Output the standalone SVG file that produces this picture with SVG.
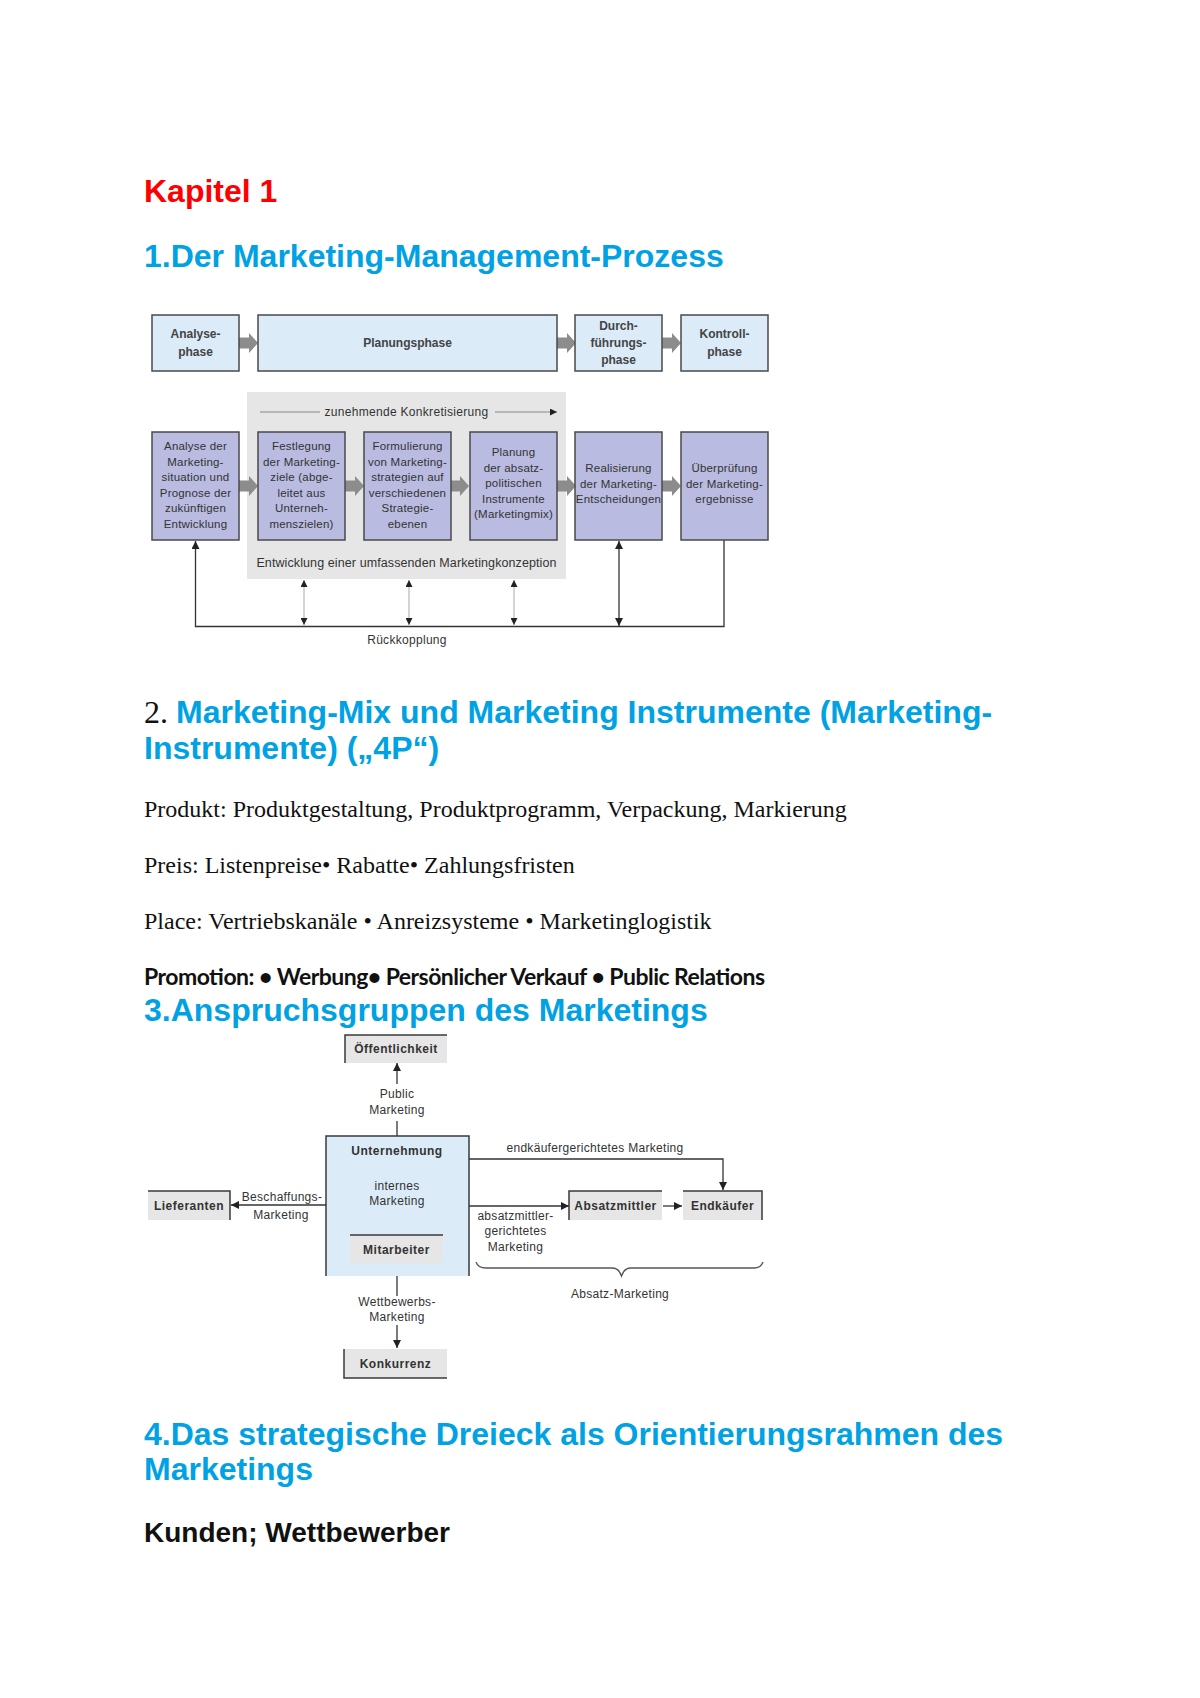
<svg xmlns="http://www.w3.org/2000/svg" width="1200" height="1698" viewBox="0 0 1200 1698">
<style>
.h{font-family:"Liberation Sans",Arial,sans-serif;font-weight:700;font-size:32px;fill:#00a2e3}
.red{font-family:"Liberation Sans",Arial,sans-serif;font-weight:700;font-size:32px;fill:#ff0000}
.body{font-family:"Liberation Serif","Times New Roman",serif;font-size:24px;fill:#111}
.cal{font-family:Lato,"Liberation Sans",sans-serif;font-weight:700;font-size:23px;fill:#111}
.kb{font-family:"Liberation Sans",Arial,sans-serif;font-weight:700;font-size:28px;fill:#111}
.t1{font-family:"Liberation Sans",Arial,sans-serif;font-weight:700;font-size:12px;fill:#444;text-anchor:middle}
.t2{font-family:"Liberation Sans",Arial,sans-serif;font-size:11.5px;fill:#333;text-anchor:middle;letter-spacing:0.2px}
.t3{font-family:"Liberation Sans",Arial,sans-serif;font-size:12px;fill:#333;text-anchor:middle;letter-spacing:0.3px}
.tb{font-family:"Liberation Sans",Arial,sans-serif;font-weight:700;font-size:12px;fill:#333;text-anchor:middle;letter-spacing:0.5px}
.bx1{fill:#dbebf8;stroke:#4a4a4a;stroke-width:1.5}
.bx2{fill:#b9bbe0;stroke:#4a4a4a;stroke-width:1.5}
.gb{fill:#e6e6e6}
.edge{fill:none;stroke:#3a3a3a;stroke-width:1.5}
.ln{fill:none;stroke:#333;stroke-width:1.3}
.thin{fill:none;stroke:#aaa;stroke-width:1}
.blk{fill:#8c8c8c}
</style>
<defs>
<marker id="ah" viewBox="0 0 10 10" refX="10" refY="5" markerWidth="8" markerHeight="8" orient="auto-start-reverse" markerUnits="userSpaceOnUse"><path d="M0,0 L10,5 L0,10 z" fill="#222"/></marker>
<marker id="ahs" viewBox="0 0 10 10" refX="10" refY="5" markerWidth="7" markerHeight="7" orient="auto-start-reverse" markerUnits="userSpaceOnUse"><path d="M0,0 L10,5 L0,10 z" fill="#222"/></marker>
<path id="blk" d="M0,-5.5 H10 V-10 L19,0 L10,10 V5.5 H0 Z"/>
</defs>
<rect width="1200" height="1698" fill="#fff"/>

<!-- Headings and body text -->
<text class="red" x="144" y="202">Kapitel 1</text>
<text class="h" x="144" y="267">1.Der Marketing-Management-Prozess</text>

<text x="144" y="723"><tspan style="font-family:'Liberation Serif','Times New Roman',serif;font-size:32px;fill:#111">2. </tspan><tspan class="h">Marketing-Mix und Marketing Instrumente (Marketing-</tspan></text>
<text class="h" x="144" y="759">Instrumente) („4P“)</text>
<text class="body" x="144" y="817">Produkt: Produktgestaltung, Produktprogramm, Verpackung, Markierung</text>
<text class="body" x="144" y="873">Preis: Listenpreise• Rabatte• Zahlungsfristen</text>
<text class="body" x="144" y="929">Place: Vertriebskanäle • Anreizsysteme • Marketinglogistik</text>
<text class="cal" x="144" y="985" textLength="621">Promotion: • Werbung• Persönlicher Verkauf • Public Relations</text>
<text class="h" x="144" y="1021">3.Anspruchsgruppen des Marketings</text>
<text class="h" x="144" y="1445">4.Das strategische Dreieck als Orientierungsrahmen des</text>
<text class="h" x="144" y="1480">Marketings</text>
<text class="kb" x="144" y="1542">Kunden; Wettbewerber</text>

<!-- Diagram 1 -->
<rect class="gb" x="247" y="392" width="319" height="187"/>

<g id="d1-connectors">
<use href="#blk" class="blk" x="239" y="343"/>
<use href="#blk" class="blk" x="557" y="343"/>
<use href="#blk" class="blk" x="662" y="343"/>
<use href="#blk" class="blk" x="239" y="486"/>
<use href="#blk" class="blk" x="345" y="486"/>
<use href="#blk" class="blk" x="450" y="486"/>
<use href="#blk" class="blk" x="557" y="486"/>
<use href="#blk" class="blk" x="662" y="486"/>
<path d="M260,412 H320" stroke="#888" stroke-width="1" fill="none"/>
<path d="M495,412 H557" stroke="#888" stroke-width="1" fill="none" marker-end="url(#ahs)"/>
<path class="ln" d="M724,540 V626.5 H195.5 V541" marker-end="url(#ah)"/>
<path class="ln" d="M619,541 V626" marker-start="url(#ah)" marker-end="url(#ah)"/>
<path class="thin" d="M304,580 V625" marker-start="url(#ahs)" marker-end="url(#ahs)"/>
<path class="thin" d="M409,580 V625" marker-start="url(#ahs)" marker-end="url(#ahs)"/>
<path class="thin" d="M514,580 V625" marker-start="url(#ahs)" marker-end="url(#ahs)"/>
</g>

<g id="analysephase"><rect class="bx1" x="152" y="315" width="87" height="56"/><text class="t1" x="195.5" y="338">Analyse-</text><text class="t1" x="195.5" y="356">phase</text></g>
<g id="planungsphase"><rect class="bx1" x="258" y="315" width="299" height="56"/><text class="t1" x="407.5" y="347">Planungsphase</text></g>
<g id="durchfuehrungsphase"><rect class="bx1" x="575" y="315" width="87" height="56"/><text class="t1" x="618.5" y="330">Durch-</text><text class="t1" x="618.5" y="347">führungs-</text><text class="t1" x="618.5" y="364">phase</text></g>
<g id="kontrollphase"><rect class="bx1" x="681" y="315" width="87" height="56"/><text class="t1" x="724.5" y="338">Kontroll-</text><text class="t1" x="724.5" y="356">phase</text></g>

<text class="t3" x="406.5" y="416">zunehmende Konkretisierung</text>

<g id="analyse"><rect class="bx2" x="152" y="432" width="87" height="108"/>
<text class="t2" x="195.5" y="450">Analyse der</text><text class="t2" x="195.5" y="465.5">Marketing-</text><text class="t2" x="195.5" y="481">situation und</text><text class="t2" x="195.5" y="496.5">Prognose der</text><text class="t2" x="195.5" y="512">zukünftigen</text><text class="t2" x="195.5" y="527.5">Entwicklung</text></g>
<g id="festlegung"><rect class="bx2" x="258" y="432" width="87" height="108"/>
<text class="t2" x="301.5" y="450">Festlegung</text><text class="t2" x="301.5" y="465.5">der Marketing-</text><text class="t2" x="301.5" y="481">ziele (abge-</text><text class="t2" x="301.5" y="496.5">leitet aus</text><text class="t2" x="301.5" y="512">Unterneh-</text><text class="t2" x="301.5" y="527.5">menszielen)</text></g>
<g id="formulierung"><rect class="bx2" x="364" y="432" width="87" height="108"/>
<text class="t2" x="407.5" y="450">Formulierung</text><text class="t2" x="407.5" y="465.5">von Marketing-</text><text class="t2" x="407.5" y="481">strategien auf</text><text class="t2" x="407.5" y="496.5">verschiedenen</text><text class="t2" x="407.5" y="512">Strategie-</text><text class="t2" x="407.5" y="527.5">ebenen</text></g>
<g id="planung"><rect class="bx2" x="470" y="432" width="87" height="108"/>
<text class="t2" x="513.5" y="456">Planung</text><text class="t2" x="513.5" y="471.5">der absatz-</text><text class="t2" x="513.5" y="487">politischen</text><text class="t2" x="513.5" y="502.5">Instrumente</text><text class="t2" x="513.5" y="518">(Marketingmix)</text></g>
<g id="realisierung"><rect class="bx2" x="575" y="432" width="87" height="108"/>
<text class="t2" x="618.5" y="472">Realisierung</text><text class="t2" x="618.5" y="487.5">der Marketing-</text><text class="t2" x="618.5" y="503">Entscheidungen</text></g>
<g id="ueberpruefung"><rect class="bx2" x="681" y="432" width="87" height="108"/>
<text class="t2" x="724.5" y="472">Überprüfung</text><text class="t2" x="724.5" y="487.5">der Marketing-</text><text class="t2" x="724.5" y="503">ergebnisse</text></g>

<text class="t3" x="406.5" y="567" style="font-size:12.5px;letter-spacing:0.1px">Entwicklung einer umfassenden Marketingkonzeption</text>
<text class="t3" x="407" y="644">Rückkopplung</text>

<!-- Diagram 2 -->
<g id="d2-connectors">
<path class="ln" d="M397,1136 V1121"/>
<path class="ln" d="M397,1084 V1063" marker-end="url(#ah)"/>
<path class="ln" d="M397,1162 V1178"/>
<path class="ln" d="M397,1210 V1234" marker-end="url(#ah)"/>
<path class="ln" d="M397,1276 V1296"/>
<path class="ln" d="M397,1325 V1348" marker-end="url(#ah)"/>
<path class="ln" d="M326,1205 H231" marker-end="url(#ah)"/>
<path class="ln" d="M469,1159 H723 V1190" marker-end="url(#ah)"/>
<path class="ln" d="M469,1206 H569" marker-end="url(#ah)"/>
<path class="ln" d="M663,1206 H682" marker-end="url(#ah)"/>
<path d="M476,1262 Q478,1268 486,1268 H612 Q619,1268 621.5,1276 Q624,1268 631,1268 H754 Q761,1268 763,1262" fill="none" stroke="#555" stroke-width="1.3"/>
</g>

<g id="oeffentlichkeit"><rect class="gb" x="345" y="1035" width="102" height="28"/><path class="edge" d="M345,1063 V1035 H447"/><text class="tb" x="396" y="1053">Öffentlichkeit</text></g>
<text class="t3" x="397" y="1098">Public</text>
<text class="t3" x="397" y="1114">Marketing</text>

<g id="unternehmung"><rect x="326" y="1136" width="143" height="140" fill="#dcebf8"/><path class="edge" d="M326,1276 V1136 H469 V1276"/><text class="tb" x="397" y="1155">Unternehmung</text>
<text class="t3" x="397" y="1190">internes</text><text class="t3" x="397" y="1205">Marketing</text></g>
<g id="mitarbeiter"><rect class="gb" x="350" y="1235" width="93" height="28"/><path class="edge" d="M350,1235 H443"/><text class="tb" x="396.5" y="1253.5">Mitarbeiter</text></g>

<text class="t3" x="397" y="1306">Wettbewerbs-</text>
<text class="t3" x="397" y="1321">Marketing</text>
<g id="konkurrenz"><rect class="gb" x="344" y="1349" width="103" height="29"/><path class="edge" d="M344,1349 V1378 H447"/><text class="tb" x="395.5" y="1367.5">Konkurrenz</text></g>

<g id="lieferanten"><rect class="gb" x="148" y="1191" width="82" height="29"/><path class="edge" d="M148,1191 H230 V1220"/><text class="tb" x="189" y="1210">Lieferanten</text></g>
<text class="t3" x="282" y="1201">Beschaffungs-</text>
<text class="t3" x="281" y="1219">Marketing</text>

<text class="t3" x="595" y="1152">endkäufergerichtetes Marketing</text>
<g id="absatzmittler"><rect class="gb" x="569" y="1191" width="93" height="29"/><path class="edge" d="M569,1220 V1191 H662"/><text class="tb" x="615.5" y="1210">Absatzmittler</text></g>
<g id="endkaeufer"><rect class="gb" x="683" y="1191" width="79" height="29"/><path class="edge" d="M683,1191 H762 V1220"/><text class="tb" x="722.5" y="1210">Endkäufer</text></g>
<text class="t3" x="515.5" y="1220">absatzmittler-</text>
<text class="t3" x="515.5" y="1235">gerichtetes</text>
<text class="t3" x="515.5" y="1251">Marketing</text>
<text class="t3" x="620" y="1298">Absatz-Marketing</text>
</svg>
